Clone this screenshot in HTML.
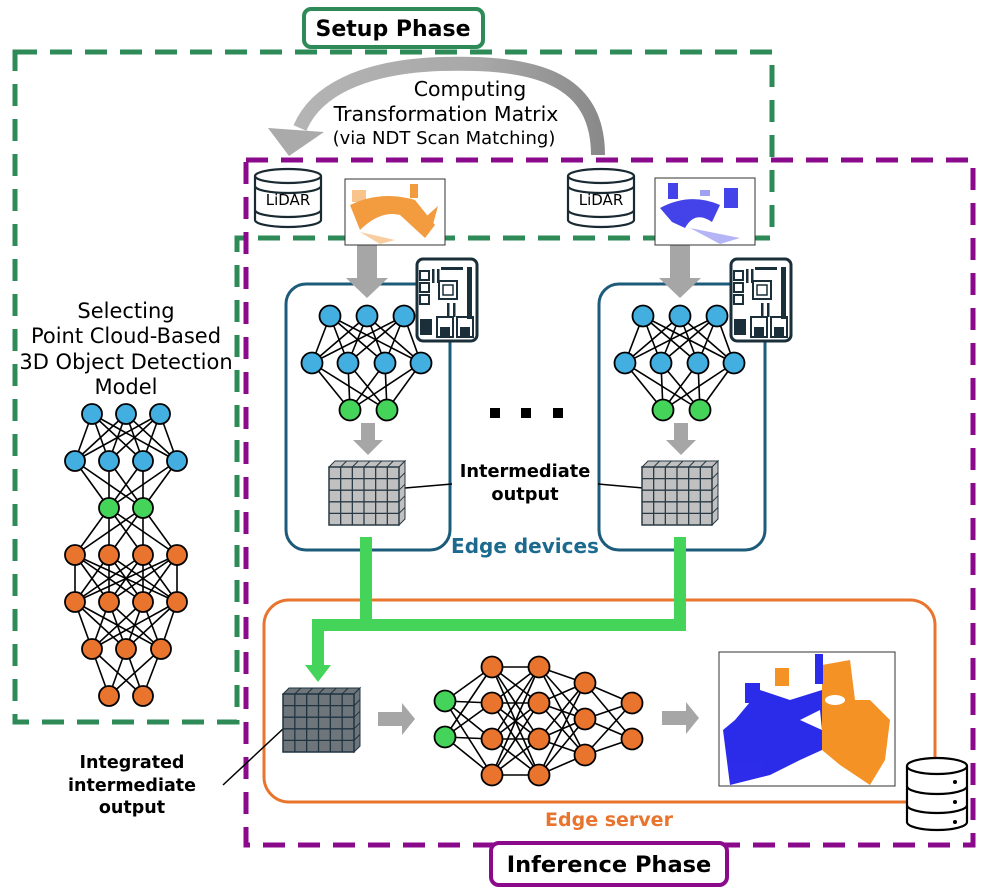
<!DOCTYPE html>
<html><head><meta charset="utf-8"><style>
html,body{margin:0;padding:0;background:#fff;}
svg{display:block;}
text{font-family:"DejaVu Sans","Liberation Sans",sans-serif;}
</style></head><body>
<svg id="s" width="996" height="896" viewBox="0 0 996 896" xmlns="http://www.w3.org/2000/svg">
<defs>
<linearGradient id="ag" x1="0" y1="0" x2="1" y2="0">
<stop offset="0" stop-color="#b4b4b4"/><stop offset="0.6" stop-color="#a8a8a8"/><stop offset="1" stop-color="#8a8a8a"/>
</linearGradient>
</defs>
<path d="M15,52 H772 V238 H237 V722 H15 Z" fill="none" stroke="#2e8b57" stroke-width="5" stroke-dasharray="22,13"/>
<rect x="246" y="160" width="727" height="685" fill="none" stroke="#8b0a8b" stroke-width="5" stroke-dasharray="22,13"/>
<rect x="304" y="9" width="179" height="38" rx="7" fill="#fff" stroke="#2e8b57" stroke-width="4"/>
<text x="393" y="36" font-size="22" font-weight="bold" text-anchor="middle">Setup Phase</text>
<rect x="491" y="843" width="236" height="42" rx="8" fill="#fff" stroke="#8b0a8b" stroke-width="4"/>
<text x="609" y="872" font-size="22.5" font-weight="bold" text-anchor="middle">Inference Phase</text>

<path d="M598,155 C598,70 520,62 440,64 C360,67 315,92 300,128" fill="none" stroke="url(#ag)" stroke-width="14"/>
<polygon points="268,128 324,132 289,156" fill="#aaa"/>
<text x="470" y="96" font-size="20.5" text-anchor="middle">Computing</text>
<text x="446" y="121" font-size="20.5" text-anchor="middle">Transformation Matrix</text>
<text x="444" y="144" font-size="18" text-anchor="middle">(via NDT Scan Matching)</text>

<text font-size="21" text-anchor="middle"><tspan x="126" y="318">Selecting</tspan><tspan x="126" y="343">Point Cloud-Based</tspan><tspan x="126" y="369">3D Object Detection</tspan><tspan x="126" y="394">Model</tspan></text>

<rect x="286" y="284" width="164" height="266" rx="20" fill="none" stroke="#1d5b7a" stroke-width="3"/>
<rect x="599" y="284" width="166" height="266" rx="20" fill="none" stroke="#1d5b7a" stroke-width="3"/>
<rect x="264" y="600" width="671" height="202" rx="25" fill="none" stroke="#e8742e" stroke-width="3"/>
<text x="609" y="826" font-size="19" font-weight="bold" fill="#e8742e" text-anchor="middle">Edge server</text>
<text x="525" y="553" font-size="20" font-weight="bold" fill="#1d6a8f" text-anchor="middle">Edge devices</text>

<rect x="490" y="408" width="10" height="10"/><rect x="521" y="408" width="10" height="10"/><rect x="553" y="408" width="10" height="10"/>
<text x="525" y="477" font-size="17.8" font-weight="bold" text-anchor="middle">Intermediate</text>
<text x="525" y="500" font-size="17.8" font-weight="bold" text-anchor="middle">output</text>
<line x1="405" y1="488" x2="452" y2="484" stroke="#000" stroke-width="1.5"/>
<line x1="598" y1="484" x2="643" y2="488" stroke="#000" stroke-width="1.5"/>
<text x="132" y="768" font-size="17.5" font-weight="bold" text-anchor="middle">Integrated</text>
<text x="132" y="791" font-size="17.5" font-weight="bold" text-anchor="middle">intermediate</text>
<text x="132" y="813" font-size="17.5" font-weight="bold" text-anchor="middle">output</text>
<line x1="223" y1="785" x2="284" y2="728" stroke="#000" stroke-width="1.5"/>

<path d="M366,537 V625 M680,537 V625 M318,625 H686 M318,619 V670" fill="none" stroke="#44d45a" stroke-width="12"/>
<polygon points="305,665 331,665 318,682" fill="#44d45a"/>

<g fill="#a6a6a6">
<polygon points="357,245 377,245 377,278 388,278 367,298 346,278 357,278"/>
<polygon points="670,245 690,245 690,278 701,278 680,298 659,278 670,278"/>
<polygon points="361,423 375,423 375,440 383,440 368,455 353,440 361,440"/>
<polygon points="674,423 688,423 688,440 696,440 681,455 666,440 674,440"/>
<polygon points="378,712 402,712 402,703 415,719 402,735 402,726 378,726"/>
<polygon points="662,711 686,711 686,702 699,718 686,734 686,725 662,725"/>
</g>

<g fill="#fff" stroke="#1a2a33" stroke-width="2.2">
<path d="M255,176 V220 A33,7 0 0 0 321,220 V176"/>
<ellipse cx="288" cy="176" rx="33" ry="7"/>
<path d="M255,186 A33,7 0 0 0 321,186 M255,210 A33,7 0 0 0 321,210" fill="none"/>
</g>
<text x="288" y="205" font-size="15" text-anchor="middle">LiDAR</text>
<g fill="#fff" stroke="#1a2a33" stroke-width="2.2">
<path d="M568,176 V220 A33,7 0 0 0 634,220 V176"/>
<ellipse cx="601" cy="176" rx="33" ry="7"/>
<path d="M568,186 A33,7 0 0 0 634,186 M568,210 A33,7 0 0 0 634,210" fill="none"/>
</g>
<text x="601" y="205" font-size="15" text-anchor="middle">LiDAR</text>

<rect x="345" y="179" width="100" height="66" fill="#fff" stroke="#333" stroke-width="1"/>
<g fill="#f08a1e" opacity="0.85">
<path d="M350,205 Q380,190 415,200 L435,225 L425,238 L400,215 Q380,210 360,230 Z"/>
<rect x="352" y="190" width="14" height="12" opacity="0.6"/><rect x="410" y="184" width="8" height="14"/>
<path d="M420,222 L438,206 L432,228 Z"/><path d="M360,232 L395,240 L380,244 Z" opacity="0.5"/>
</g>
<rect x="655" y="178" width="100" height="67" fill="#fff" stroke="#333" stroke-width="1"/>
<g fill="#2323e6" opacity="0.85">
<path d="M660,208 Q690,192 720,205 L712,222 Q695,210 685,228 L672,222 Z"/>
<rect x="668" y="183" width="10" height="16"/><rect x="724" y="188" width="14" height="20"/>
<path d="M690,228 L740,238 L720,244 Z" opacity="0.4"/><rect x="700" y="190" width="10" height="6" opacity="0.5"/>
</g>
<rect x="719" y="652" width="176" height="134" fill="#fff" stroke="#333" stroke-width="1"/>
<g opacity="0.9">
<path d="M822,665 L850,660 L855,700 L870,700 L890,720 L885,760 L870,785 L840,765 L822,750 Z" fill="#f5870f"/>
<path d="M760,690 L790,700 L822,690 L822,750 L800,760 L770,775 L730,785 L723,730 L735,720 Z" fill="#1515e8"/>
<rect x="745" y="683" width="15" height="20" fill="#1515e8"/><rect x="815" y="654" width="8" height="30" fill="#1515e8"/>
<rect x="775" y="668" width="14" height="18" fill="#f5870f"/>
<path d="M800,720 L820,710 L822,730 Z" fill="#fff"/><ellipse cx="835" cy="700" rx="10" ry="5" fill="#fff"/>
</g>
<g fill="#fff" stroke="#000" stroke-width="2.2">
<path d="M907,766 V822 A30,8 0 0 0 967,822 V766"/>
<ellipse cx="937" cy="766" rx="30" ry="8"/>
<path d="M907,786 A30,8 0 0 0 967,786 M907,805 A30,8 0 0 0 967,805" fill="none"/>
</g>
<circle cx="955" cy="782" r="2"/><circle cx="955" cy="802" r="2"/><circle cx="955" cy="822" r="2"/>

<g id="dyn"></g>
</svg>
<script>
const NS="http://www.w3.org/2000/svg",g=document.getElementById('dyn');
function el(t,a){const e=document.createElementNS(NS,t);for(const k in a)e.setAttribute(k,a[k]);g.appendChild(e);return e;}
const B="#42afe0",G="#44d45a",O="#e8742e";
function net(layers,r){
 for(let i=0;i<layers.length-1;i++)for(const a of layers[i])for(const b of layers[i+1])
  el('line',{x1:a[0],y1:a[1],x2:b[0],y2:b[1],stroke:'#000','stroke-width':1.6});
 for(const L of layers)for(const n of L)el('circle',{cx:n[0],cy:n[1],r:r,fill:n[2],stroke:'#000','stroke-width':1.8});
}
function row(xs,y,c){return xs.map(x=>[x,y,c]);}
function col(x,ys,c){return ys.map(y=>[x,y,c]);}
net([row([92,126,160],414,B),row([75,109,143,177],461,B),row([109,143],508,G),row([75,109,143,177],555,O),row([75,109,143,177],602,O),row([92,126,161],649,O),row([109,143],696,O)],10);
for(const dx of [0,313]){
 net([row([330+dx,367+dx,404+dx],316,B),row([312+dx,348+dx,385+dx,421+dx],363,B),row([350+dx,387+dx],410,G)],10.5);
}
net([col(445,[701,737],G),col(492,[667,703,739,775],O),col(539,[667,703,739,775],O),col(585,[683,719,755],O),col(632,[703,739],O)],10.5);
function cube(x,y,w,h,fill,stroke){
 const d=6;
 el('polygon',{points:`${x},${y} ${x+d},${y-d} ${x+w+d},${y-d} ${x+w},${y}`,fill:fill,stroke:stroke,'stroke-width':1});
 el('polygon',{points:`${x+w},${y} ${x+w+d},${y-d} ${x+w+d},${y+h-d} ${x+w},${y+h}`,fill:fill,stroke:stroke,'stroke-width':1});
 el('rect',{x:x,y:y,width:w,height:h,fill:fill,stroke:stroke,'stroke-width':1.5});
 for(let i=1;i<6;i++){el('line',{x1:x+w*i/6,y1:y,x2:x+w*i/6,y2:y+h,stroke:stroke,'stroke-width':1.3});
  el('line',{x1:x+w*i/6,y1:y,x2:x+w*i/6+d,y2:y-d,stroke:stroke,'stroke-width':1});}
 for(let i=1;i<5;i++){el('line',{x1:x,y1:y+h*i/5,x2:x+w,y2:y+h*i/5,stroke:stroke,'stroke-width':1.3});
  el('line',{x1:x+w,y1:y+h*i/5,x2:x+w+d,y2:y+h*i/5-d,stroke:stroke,'stroke-width':1});}
}
cube(329,467,70,58,'#c0c0c0','#2a3a44');
cube(642,467,70,58,'#c0c0c0','#2a3a44');
cube(283,694,71,58,'#6e767c','#1f3340');
function board(x,y){
 el('rect',{x:x,y:y,width:60,height:82,rx:6,fill:'#fff',stroke:'#1a2f3a','stroke-width':3});
 el('rect',{x:x+22,y:y+22,width:18,height:18,fill:'none',stroke:'#1a2f3a','stroke-width':2});
 el('rect',{x:x+26,y:y+26,width:10,height:10,fill:'none',stroke:'#1a2f3a','stroke-width':1.5});
 el('rect',{x:x+50,y:y+8,width:5,height:52,fill:'#1a2f3a'});
 for(const yy of [y+12,y+24,y+36])el('rect',{x:x+3,y:yy,width:9,height:9,fill:'none',stroke:'#1a2f3a','stroke-width':2});
 el('rect',{x:x+24,y:y+8,width:22,height:3,fill:'#1a2f3a'});
 for(const xx of [x+15,x+20,x+30,x+36])el('rect',{x:xx,y:xx>x+25?y+44:y+10,width:2.5,height:14,fill:'#1a2f3a'});
 el('rect',{x:x+3,y:y+60,width:12,height:16,fill:'#1a2f3a'});
 el('rect',{x:x+20,y:y+58,width:16,height:20,fill:'none',stroke:'#1a2f3a','stroke-width':2});
 el('rect',{x:x+40,y:y+58,width:16,height:20,fill:'none',stroke:'#1a2f3a','stroke-width':2});
 el('rect',{x:x+23,y:y+68,width:10,height:10,fill:'#1a2f3a'});el('rect',{x:x+43,y:y+68,width:10,height:10,fill:'#1a2f3a'});
}
board(417,259);board(731,259);
</script>
</body></html>
